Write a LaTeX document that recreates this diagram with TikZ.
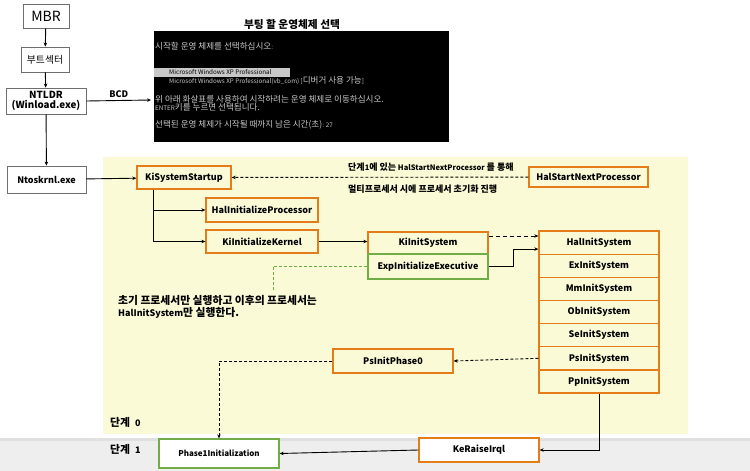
\documentclass[tikz,border=0pt]{standalone}
\usepackage{fontspec}
\setmainfont{Noto Sans CJK KR}
\newfontfamily\krf{Noto Sans CJK KR}[Scale=1.2]
\newfontfamily\krs{Noto Sans CJK KR}[Scale=1.36]
\newcommand\kr[1]{{\krf #1}}
\newcommand\ks[1]{{\krs #1}}
\usetikzlibrary{arrows.meta}
\definecolor{bgy}{RGB}{250,251,214}
\definecolor{org}{RGB}{226,125,25}
\definecolor{grn}{RGB}{112,173,71}
\definecolor{gband}{RGB}{238,238,238}
\definecolor{gline}{RGB}{224,224,224}
\definecolor{scrtxt}{RGB}{200,200,200}
\definecolor{gbox}{RGB}{110,110,110}
\begin{document}
\begin{tikzpicture}[x=1pt,y=-1pt,
  lbl/.style={font=\fontsize{9}{10}\selectfont\bfseries},
  obox/.style={draw=org,line width=1.3pt,fill=bgy,inner sep=0pt,lbl},
  wobox/.style={draw=org,line width=1.3pt,fill=white,inner sep=0pt,lbl},
  gobox/.style={draw=grn,line width=1.3pt,fill=bgy,inner sep=0pt,lbl},
  wgbox/.style={draw=grn,line width=1.3pt,fill=white,inner sep=0pt,font=\fontsize{8}{9}\selectfont\bfseries},
  lbox/.style={draw=gbox,line width=0.8pt,fill=white,inner sep=0pt},
  arr/.style={draw=black,line width=0.9pt,-{Stealth[length=4pt,width=3.5pt]}},
  dsh/.style={dash pattern=on 3pt off 2pt},
  scr/.style={anchor=west,inner sep=0pt,text=scrtxt,font=\fontsize{6.3}{7}\selectfont},
  note/.style={font=\fontsize{7.5}{9}\selectfont\bfseries,inner sep=0pt}
]
\useasboundingbox (0,0) rectangle (750,471);
\fill[white] (0,0) rectangle (750,471);
% backgrounds
\fill[bgy] (103,157) rectangle (688,434);
\fill[gband] (0,438) rectangle (750,471);
\fill[gline] (0,438) rectangle (750,441);

% left column
\node[lbox,minimum width=46pt,minimum height=24pt,font=\fontsize{14}{15}\selectfont] (mbr) at (46,16) {MBR};
\node[lbox,minimum width=48pt,minimum height=25pt,font=\fontsize{9.8}{10}\selectfont] (boot) at (45,59.5) {부트섹터};
\node[lbox,minimum width=80pt,minimum height=26pt,lbl,align=center,font=\fontsize{9.8}{10.5}\selectfont\bfseries] (ntldr) at (46,101) {NTLDR\\(Winload.exe)};
\node[lbox,minimum width=79pt,minimum height=27pt,lbl] (ntos) at (46.5,179.5) {Ntoskrnl.exe};

% screen
\node[font=\fontsize{10.7}{11}\selectfont\bfseries,inner sep=0pt] (title) at (292,24) {부팅 할 운영체제 선택};
\node[fill=black,minimum width=295pt,minimum height=111pt,inner sep=0pt] (screen) at (301.5,86.5) {};
\fill[scrtxt] (154,68) rectangle (290,76.5);
\node[scr] (s1) at (155,46) {\ks{시작할 운영 체제를 선택하십시오}:};
\node[scr,text=black] (s2) at (169,72) {Microsoft Windows XP Professional};
\node[scr] (s3) at (169,81) {Microsoft Windows XP Professional(vb\_com) [\ks{디버거 사용 가능}]};
\node[scr] (s4) at (155,99) {\ks{위 아래 화살표를 사용하여 시작하려는 운영 체제로 이동하십시오.}};
\node[scr] (s5) at (155,107) {ENTER\ks{키를 누르면 선택됩니다.}};
\node[scr] (s6) at (155,125) {\ks{선택된 운영 체제가 시작될 때까지 남은 시간(초)}: 27};
\coordinate (scrin) at (151,100);

% main boxes
\node[obox,minimum width=94pt,minimum height=23pt] (kiss) at (184,177.5) {KiSystemStartup};
\node[obox,minimum width=112pt,minimum height=24pt] (halip) at (262,210) {HalInitializeProcessor};
\node[obox,minimum width=112pt,minimum height=23pt] (kiik) at (262,241.5) {KiInitializeKernel};
\node[obox,minimum width=120pt,minimum height=22pt] (kiis) at (428,243) {KiInitSystem};
\node[gobox,minimum width=120pt,minimum height=25pt] (exp) at (428,266.5) {ExpInitializeExecutive};
\node[obox,minimum width=119pt,minimum height=20pt] (hsnp) at (588.5,177) {HalStartNextProcessor};

\foreach \n/\t [count=\i from 0] in {r1/HalInitSystem,r2/ExInitSystem,r3/MmInitSystem,r4/ObInitSystem,r5/SeInitSystem,r6/PsInitSystem,r7/PpInitSystem}
  \node[obox,minimum width=120pt,minimum height=23.15pt] (\n) at (599,{231+23.15*(\i+0.5)}) {\t};

\node[obox,minimum width=120pt,minimum height=24pt] (psp0) at (393,361) {PsInitPhase0};
\node[wgbox,minimum width=120pt,minimum height=29pt] (p1) at (219,453.5) {Phase1Initialization};
\node[wobox,minimum width=120pt,minimum height=24pt] (kri) at (479,450) {KeRaiseIrql};

% texts
\node[note,anchor=west] (t1) at (348,167) {\kr{단계}1\kr{에 있는} HalStartNextProcessor \kr{를 통해}};
\node[note,anchor=west] (t2) at (348,189) {\kr{멀티프로세서 시에 프로세서 초기화 진행}};
\node[lbl,anchor=north west,align=left,inner sep=0pt,font=\fontsize{9}{11.5}\selectfont\bfseries] (nt) at (118,295.5) {\kr{초기 프로세서만 실행하고 이후의 프로세서는}\\HalInitSystem\kr{만 실행한다.}};
\node[lbl,anchor=west,inner sep=0pt] (st0) at (110,422) {\kr{단계}\hspace{5pt}0};
\node[lbl,anchor=west,inner sep=0pt] (st1) at (110,449) {\kr{단계}\hspace{5pt}1};

% connectors
\draw[arr] (mbr) -- (boot);
\draw[arr] (boot) -- (ntldr);
\draw[arr] (ntldr) -- (ntos);
\draw[arr] (ntldr.east) -- node[lbl,above,inner sep=2pt] {BCD} (scrin);
\draw[arr] (ntos) -- (kiss);
\draw[arr,dsh] (hsnp) -- (kiss);
\coordinate (bx) at (153,200);
\draw[arr] (kiss.south -| bx) |- (halip.west);
\draw[arr] (kiss.south -| bx) |- (kiik.west);
\draw[arr] (kiik.east) -- (kiis.west |- kiik.east);
\draw[arr,dash pattern=on 4pt off 3pt] ([yshift=7pt]kiis.east) -- ([yshift=7pt]kiis.east -| r1.west);
\draw[arr] (exp.east) -- ++(25,0) |- ([yshift=-6.5pt]r1.west);
\coordinate (gd) at (273,292);
\draw[grn,line width=0.8pt,dsh] (exp.west) -| (gd);
\draw[arr,dsh] (r6.west) -- (psp0.east);
\draw[arr,dsh] (psp0.west) -| (p1.north);
\draw[arr] (r7.south) |- (kri.east);
\draw[arr] (kri.west) -- (p1.east);
\end{tikzpicture}
\end{document}
